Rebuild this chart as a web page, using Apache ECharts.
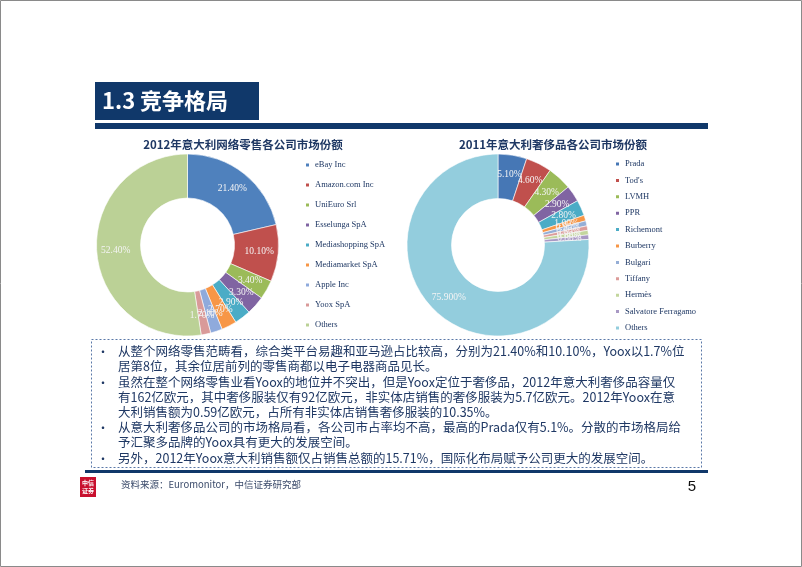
<!DOCTYPE html>
<html>
<head>
<meta charset="utf-8">
<script src="https://cdn.jsdelivr.net/npm/echarts@6/dist/echarts.min.js"></script>
<style>
html,body{margin:0;padding:0;background:#fff;}
#c{width:802px;height:567px;}
</style>
</head>
<body>
<div id="c"></div>
<script>
// ---- data ----
const leftTitle = '2012年意大利网络零售各公司市场份额';
const leftNames = ['eBay Inc','Amazon.com Inc','UniEuro Srl','Esselunga SpA','Mediashopping SpA','Mediamarket SpA','Apple Inc','Yoox SpA','Others'];
const leftValues = [21.4, 10.1, 3.4, 3.3, 2.9, 2.7, 2.1, 1.7, 52.4];

const rightTitle = '2011年意大利奢侈品各公司市场份额';
const rightNames = ['Prada',"Tod's",'LVMH','PPR','Richemont','Burberry','Bulgari','Tiffany','Hermès','Salvatore Ferragamo','Others'];
const rightValues = [5.1, 4.6, 4.3, 2.9, 2.8, 1.0, 0.9, 0.8, 0.8, 0.8, 75.9];

const headerText = '1.3 竞争格局';
const bodyLines = [
  {bullet:true,  text:'从整个网络零售范畴看，综合类平台易趣和亚马逊占比较高，分别为21.40%和10.10%，Yoox以1.7%位'},
  {bullet:false, text:'居第8位，其余位居前列的零售商都以电子电器商品见长。'},
  {bullet:true,  text:'虽然在整个网络零售业看Yoox的地位并不突出，但是Yoox定位于奢侈品，2012年意大利奢侈品容量仅'},
  {bullet:false, text:'有162亿欧元，其中奢侈服装仅有92亿欧元，非实体店销售的奢侈服装为5.7亿欧元。2012年Yoox在意'},
  {bullet:false, text:'大利销售额为0.59亿欧元，占所有非实体店销售奢侈服装的10.35%。'},
  {bullet:true,  text:'从意大利奢侈品公司的市场格局看，各公司市占率均不高，最高的Prada仅有5.1%。分散的市场格局给'},
  {bullet:false, text:'予汇聚多品牌的Yoox具有更大的发展空间。'},
  {bullet:true,  text:'另外，2012年Yoox意大利销售额仅占销售总额的15.71%，国际化布局赋予公司更大的发展空间。'}
];
const sourceText = '资料来源：Euromonitor，中信证券研究部';
const pageNo = '5';

// ---- styles ----
const leftColors = ['#4F81BD','#C0504D','#9BBB59','#8064A2','#4BACC6','#F79646','#8FAADC','#D99A99','#BBD196'];
const rightColors = ['#4677B5','#C0504D','#9BBB59','#8064A2','#4BACC6','#F79646','#95AED6','#DC9C9A','#C3D69D','#A898C4','#93CDDD'];
const navy = '#10386A';
const textNavy = '#1F3864';
const serif = '"Liberation Serif", "DejaVu Serif", serif';
const cjk = '"Noto Sans CJK SC", sans-serif';

const chart = echarts.init(document.getElementById('c'), null, {renderer:'canvas'});

const lineYs = [351, 366, 382, 397, 412, 427, 442, 458];
const graphics = [
  {type:'rect', shape:{x:0.5,y:0.5,width:801,height:566}, style:{fill:'none', stroke:'#8a8a8a', lineWidth:1}, silent:true},
  {type:'rect', shape:{x:95,y:82,width:164,height:38}, style:{fill:navy}, silent:true},
  {type:'text', x:102, y:101, style:{text:headerText, fill:'#fff', font:'bold 22px ' + cjk, textVerticalAlign:'middle'}, silent:true},
  {type:'rect', shape:{x:95,y:123,width:613,height:6}, style:{fill:navy}, silent:true},
  {type:'text', x:243, y:145, style:{text:leftTitle, fill:textNavy, font:'bold 11.5px ' + cjk, textAlign:'center', textVerticalAlign:'middle'}, silent:true},
  {type:'text', x:553, y:145, style:{text:rightTitle, fill:textNavy, font:'bold 11.5px ' + cjk, textAlign:'center', textVerticalAlign:'middle'}, silent:true},
  {type:'rect', shape:{x:91.5,y:339.5,width:610,height:128}, style:{fill:'#fff', stroke:'#5A78A8', lineWidth:1, lineDash:[2,2]}, silent:true},
  {type:'rect', shape:{x:85,y:470,width:623,height:3}, style:{fill:navy}, silent:true},
  {type:'rect', shape:{x:80,y:477,width:16,height:20}, style:{fill:'#C8102E'}, silent:true},
  {type:'text', x:88, y:487, style:{text:'中信\n证券', fill:'#fff', font:'bold 6px ' + cjk, textAlign:'center', textVerticalAlign:'middle', lineHeight:8}, silent:true},
  {type:'text', x:121, y:484, style:{text:sourceText, fill:'#3A4A6A', font:'9.5px ' + cjk, textVerticalAlign:'middle'}, silent:true},
  {type:'text', x:692, y:487, style:{text:pageNo, fill:'#111', font:'15px "Liberation Sans", Arial, sans-serif', textAlign:'center', textVerticalAlign:'middle'}, silent:true}
];
bodyLines.forEach((l, i) => {
  if (l.bullet) {
    graphics.push({type:'text', x:103, y:lineYs[i] + 1, style:{text:'•', fill:textNavy, font:'12px ' + cjk, textAlign:'center', textVerticalAlign:'middle'}, silent:true});
  }
  graphics.push({type:'text', x:118, y:lineYs[i], style:{text:l.text, fill:textNavy, font:'12.5px ' + cjk, textVerticalAlign:'middle'}, silent:true});
});

function legendData(names, colors) {
  return names.map((n, i) => ({name:n, itemStyle:{color:colors[i]}}));
}
function pieData(names, values, colors) {
  return names.map((n, i) => ({name:n, value:values[i], itemStyle:{color:colors[i]}}));
}
const legendText = {fontSize:8.5, fontFamily:serif, color:textNavy, lineHeight:10};
const pieLabel = (which) => ({
  show:true, position:'inside', color:'#F4F4F4', fontSize:9.5, fontFamily:serif,
  formatter: p => (which === 'right' && p.name === 'Others') ? p.value.toFixed(3) + '%' : p.value.toFixed(2) + '%'
});

chart.setOption({
  animation:false,
  graphic:graphics,
  legend:[
    {data:legendData(leftNames, leftColors), orient:'vertical', left:299, top:155, icon:'rect', itemWidth:5, itemHeight:5, itemGap:10, textStyle:legendText, selectedMode:false},
    {data:legendData(rightNames, rightColors), orient:'vertical', left:609, top:154, icon:'rect', itemWidth:5, itemHeight:5, itemGap:6.4, textStyle:legendText, selectedMode:false}
  ],
  series:[
    {type:'pie', center:[187.5,245], radius:[47,91], startAngle:90, clockwise:true, avoidLabelOverlap:false,
     minShowLabelAngle:0, labelLayout:{hideOverlap:false},
     data:pieData(leftNames, leftValues, leftColors), label:pieLabel('left'), labelLine:{show:false},
     itemStyle:{borderColor:'#fff', borderWidth:0.6}, emphasis:{disabled:true}, silent:true},
    {type:'pie', center:[498,245], radius:[46.5,91], startAngle:90, clockwise:true, avoidLabelOverlap:false,
     minShowLabelAngle:0, labelLayout:{hideOverlap:false},
     data:pieData(rightNames, rightValues, rightColors), label:pieLabel('right'), labelLine:{show:false},
     itemStyle:{borderColor:'#fff', borderWidth:0.6}, emphasis:{disabled:true}, silent:true}
  ]
});
</script>
</body>
</html>
